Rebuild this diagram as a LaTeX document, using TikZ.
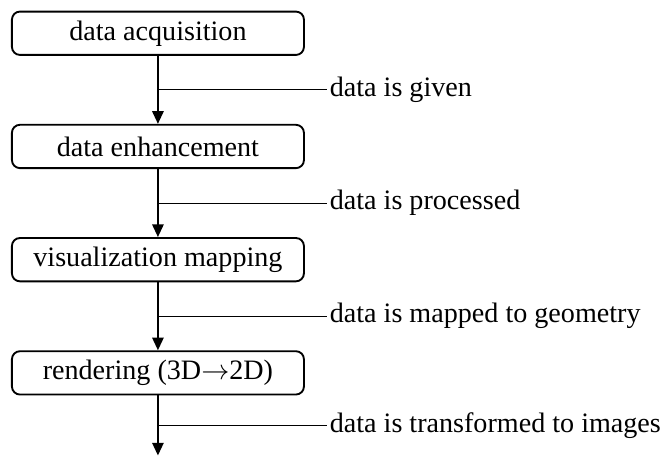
\documentclass[tikz,border=0pt]{standalone}
\usepackage{fontspec}
\setmainfont{Liberation Serif}
\usetikzlibrary{arrows.meta,positioning}

\begin{document}
\begin{tikzpicture}[node distance=1.02cm, every node/.style={font=\fontsize{12}{14}\selectfont}]
\tikzset{stage/.style={draw, rounded corners=1.2mm, line width=0.8pt, minimum width=4.38cm, minimum height=0.65cm, inner sep=0pt}}
\tikzset{flow/.style={-{Triangle[length=1.9mm,width=1.7mm]}, line width=0.8pt}}
\tikzset{note/.style={line width=0.4pt}}
\useasboundingbox (0,0) rectangle (10.035,-6.855);
\node[stage, anchor=north west] (acq) at (0.165,-0.16) {data acquisition};
\node[stage, below=of acq] (enh) {data enhancement};
\node[stage, below=of enh] (vis) {visualization mapping};
\node[stage, below=of vis] (ren) {rendering (3D$\rightarrow$2D)};
\coordinate (end) at ([yshift=-0.9cm]ren.south);
\coordinate (lx) at (4.905,0);
% main flow, with a branch point halfway down each arrow
\draw[flow] (acq) -- coordinate[midway] (m1) (enh);
\draw[flow] (enh) -- coordinate[midway] (m2) (vis);
\draw[flow] (vis) -- coordinate[midway] (m3) (ren);
\draw[flow] (ren) -- coordinate[midway] (m4) (end);
\draw[note] (m1) -- (m1 -| lx) node[right, inner sep=1pt] {data is given};
\draw[note] (m2) -- (m2 -| lx) node[right, inner sep=1pt] {data is processed};
\draw[note] (m3) -- (m3 -| lx) node[right, inner sep=1pt] {data is mapped to geometry};
\draw[note] (m4) -- (m4 -| lx) node[right, inner sep=1pt] {data is transformed to images};
\end{tikzpicture}
\end{document}
